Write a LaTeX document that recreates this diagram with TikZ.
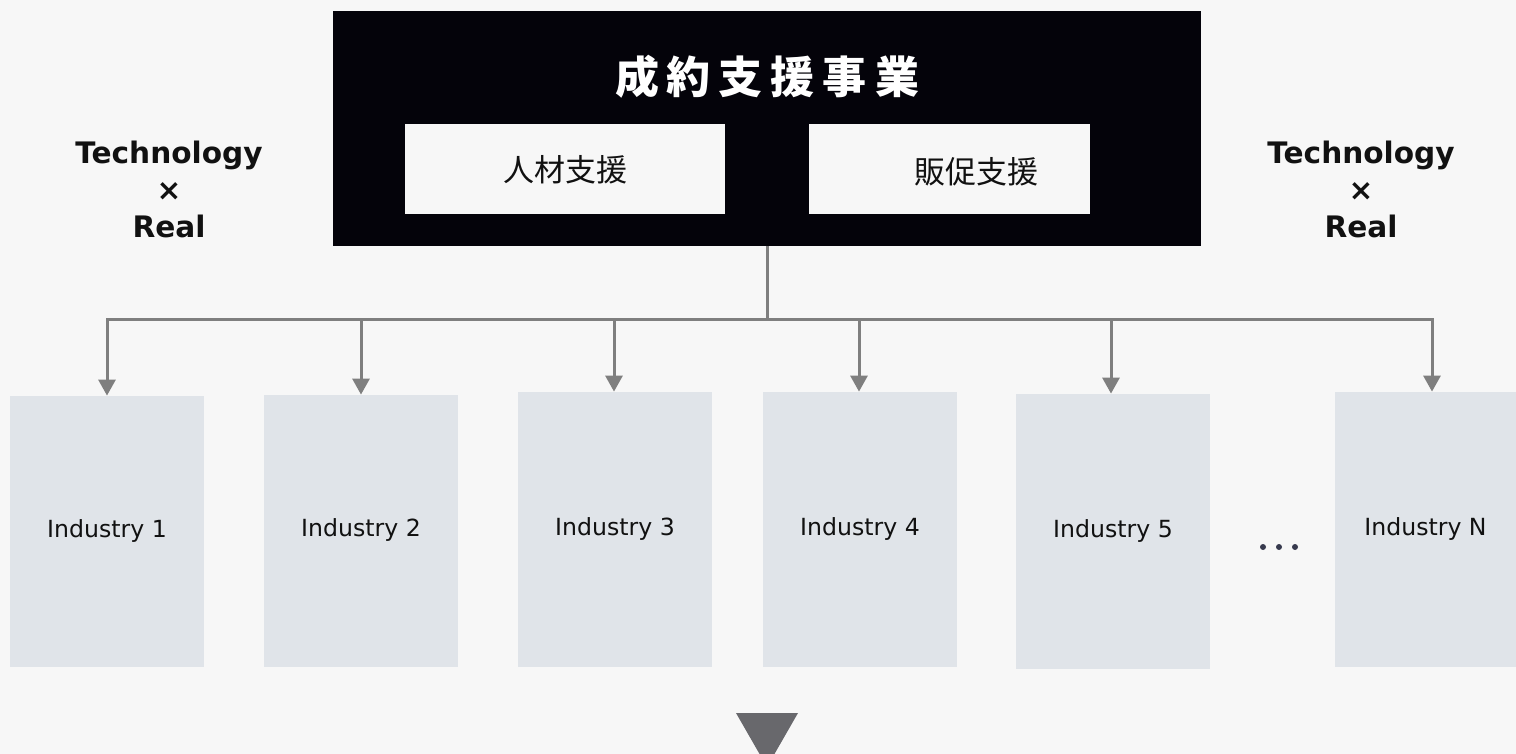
\documentclass[tikz,border=0pt]{standalone}
\usepackage{fontspec}
\setmainfont{DejaVu Sans}
\newfontfamily\jp{Noto Sans CJK JP}
\usetikzlibrary{arrows.meta}
\definecolor{bg}{HTML}{F7F7F7}
\definecolor{blk}{HTML}{04030A}
\definecolor{indfill}{HTML}{E0E4E9}
\definecolor{conncol}{HTML}{7F7F7F}
\definecolor{tricol}{HTML}{68686C}
\definecolor{dotcol}{HTML}{373A4E}
\definecolor{txt}{HTML}{111111}
\tikzset{
  blackbox/.style={fill=blk, draw=none, inner sep=0pt},
  subbox/.style={fill=bg, draw=none, inner sep=0pt, minimum width=160pt, minimum height=45pt,
    font=\jp\fontsize{15.5}{18}\selectfont, text=txt},
  indbox/.style={fill=indfill, draw=none, inner sep=0pt, minimum width=97pt,
    text height=8pt, text depth=2.5pt, font=\fontsize{11.8}{14}\selectfont, text=txt},
  techtxt/.style={font=\bfseries\fontsize{14.8}{17}\selectfont, text=txt, inner sep=0pt, anchor=base},
  conn/.style={draw=conncol, line width=1.5pt},
  arr/.style={conn, -{Triangle[width=8.5pt,length=8pt]}},
}
\begin{document}
\begin{tikzpicture}[x=0.5pt,y=-0.5pt]
\useasboundingbox (0,0) rectangle (1516,754);
\clip (0,0) rectangle (1516,754);
\fill[bg] (0,0) rectangle (1516,754);

% top black box
\node[blackbox, minimum width=434pt, minimum height=117.5pt] (top) at (767,128.5) {};
\node[text=white, inner sep=0pt, font=\jp\bfseries\fontsize{22}{26}\selectfont] (title) at (767,77)
  {成\hspace{4pt}約\hspace{4pt}支\hspace{4pt}援\hspace{4pt}事\hspace{4pt}業};
\node[subbox] (s1) at (565,169.5) {人材支援};
\node[subbox, minimum width=140.5pt] (s2) at (949.5,169.5) {};
\node[inner sep=0pt, font=\jp\fontsize{15.5}{18}\selectfont, text=txt] (s2t) at (976,172) {販促支援};

% Technology x Real
\node[techtxt] (tl1) at (169,164) {Technology};
\node[techtxt] (tl2) at (169,201) {×};
\node[techtxt] (tl3) at (169,238) {Real};
\node[techtxt] (tr1) at (1361,164) {Technology};
\node[techtxt] (tr2) at (1361,201) {×};
\node[techtxt] (tr3) at (1361,238) {Real};

% industry boxes
\node[indbox, minimum height=135.5pt] (b1) at (107,531.5) {Industry 1};
\node[indbox, minimum height=136pt] (b2) at (361,531) {Industry 2};
\node[indbox, minimum height=137.5pt] (b3) at (615,529.5) {Industry 3};
\node[indbox, minimum height=137.5pt] (b4) at (860,529.5) {Industry 4};
\node[indbox, minimum height=137.5pt] (b5) at (1113,531.5) {Industry 5};
\node[indbox, minimum width=90.5pt, minimum height=137.5pt] (b6) at (1425.5,529.5) {Industry N};

% connectors
\coordinate (j) at (767,320);
\draw[conn] (top.south) -- (j);
\draw[arr] (j) -| (b1.north);
\draw[arr] (j) -| (b2.north);
\draw[arr] (j) -| ([xshift=-0.5pt]b3.north);
\draw[arr] (j) -| ([xshift=-0.5pt]b4.north);
\draw[arr] (j) -| ([xshift=-1pt]b5.north);
\draw[arr] (j) -| ([xshift=3.25pt]b6.north);

% dots
\fill[dotcol] (1263,547) circle (1.5pt);
\fill[dotcol] (1279,547) circle (1.5pt);
\fill[dotcol] (1295,547) circle (1.5pt);

% bottom triangle
\fill[tricol] (736,713) -- (798,713) -- (767,767) -- cycle;
\end{tikzpicture}
\end{document}
